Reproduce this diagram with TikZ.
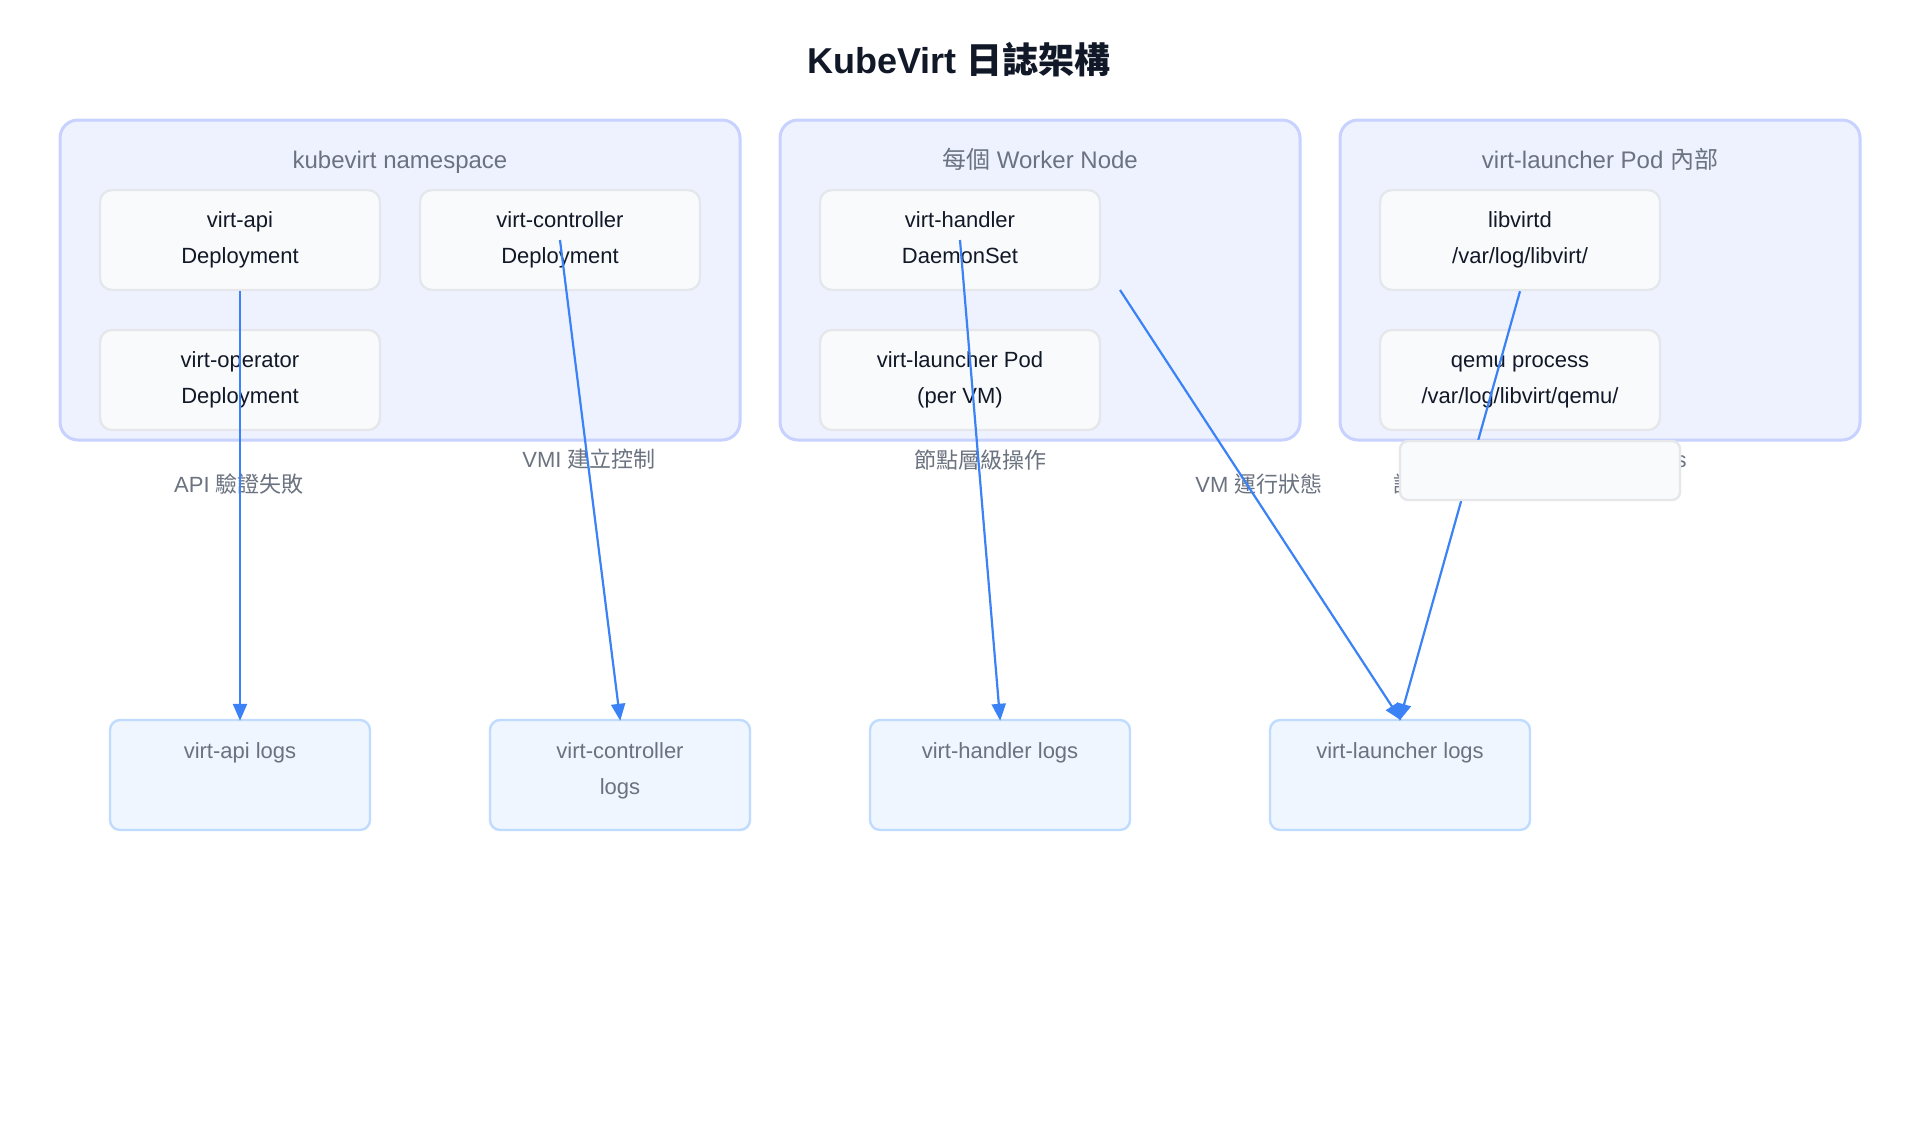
\documentclass[tikz,border=0pt]{standalone}
\usepackage{fontspec}
\setmainfont{Liberation Sans}
\newfontfamily\cjk{Noto Sans CJK TC}
\usetikzlibrary{arrows.meta}
\definecolor{grpfill}{HTML}{EEF2FF}
\definecolor{grpline}{HTML}{C7D2FE}
\definecolor{innerfill}{HTML}{F9FAFB}
\definecolor{innerline}{HTML}{E5E7EB}
\definecolor{logfill}{HTML}{EFF6FF}
\definecolor{logline}{HTML}{BFDBFE}
\definecolor{edgeblue}{HTML}{3B82F6}
\definecolor{darktext}{HTML}{111827}
\definecolor{graytext}{HTML}{6B7280}
\begin{document}
\begin{tikzpicture}[x=0.5pt,y=-0.5pt,
  grp/.style={draw=grpline, fill=grpfill, line width=1.5pt, rounded corners=9pt, minimum height=160pt},
  grplabel/.style={text=graytext, font=\fontsize{12}{14}\selectfont, inner sep=0pt, text height=9pt, text depth=3pt},
  inner/.style={draw=innerline, fill=innerfill, line width=1.2pt, rounded corners=6pt, minimum width=140pt, minimum height=50pt, align=center, text=darktext, font=\fontsize{11}{18}\selectfont},
  innertext/.style={text=darktext, align=center, font=\fontsize{11}{18}\selectfont, inner sep=0pt},
  logbox/.style={draw=logline, fill=logfill, line width=1.2pt, rounded corners=5pt, minimum width=130pt, minimum height=55pt},
  logtext/.style={text=graytext, align=center, font=\fontsize{11}{18}\selectfont, inner sep=0pt},
  elabel/.style={text=graytext, font=\fontsize{11}{14}\selectfont, inner sep=0pt, text height=8.5pt, text depth=2.5pt},
  conn/.style={draw=edgeblue, line width=1.1pt, shorten >=-1pt, -{Triangle[length=8.5pt,width=7pt]}}
]
\useasboundingbox[fill=white] (0,0) rectangle (1920,1120);

% title
\node[text=darktext, font=\bfseries\fontsize{18}{22}\selectfont] (title) at (959,60) {KubeVirt {\cjk 日誌架構}};

% groups
\node[grp, minimum width=340pt] (g1) at (400,280) {};
\node[grp, minimum width=260pt] (g2) at (1040,280) {};
\node[grp, minimum width=260pt] (g3) at (1600,280) {};
\node[grplabel] (g1l) at (400,162.5) {kubevirt namespace};
\node[grplabel] (g2l) at (1040,162.5) {{\cjk 每個} Worker Node};
\node[grplabel] (g3l) at (1600,162.5) {virt-launcher Pod {\cjk 內部}};

% inner boxes
\node[inner] (api) at (240,240) {};
\node[inner] (ctrl) at (560,240) {};
\node[inner] (oper) at (240,380) {};
\node[inner] (handler) at (960,240) {};
\node[inner] (launcher) at (960,380) {};
\node[inner] (libvirtd) at (1520,240) {};
\node[inner] (qemu) at (1520,380) {};
\node[innertext] (apit) at (240,238.5) {\strut virt-api\\\strut Deployment};
\node[innertext] (ctrlt) at (560,238.5) {\strut virt-controller\\\strut Deployment};
\node[innertext] (opert) at (240,378.5) {\strut virt-operator\\\strut Deployment};
\node[innertext] (handlert) at (960,238.5) {\strut virt-handler\\\strut DaemonSet};
\node[innertext] (launchert) at (960,378.5) {\strut virt-launcher Pod\\\strut (per VM)};
\node[innertext] (libvirtdt) at (1520,238.5) {\strut libvirtd\\\strut /var/log/libvirt/};
\node[innertext] (qemut) at (1520,378.5) {\strut qemu process\\\strut /var/log/libvirt/qemu/};

% log boxes
\node[logbox] (apilog) at (240,775) {};
\node[logbox] (ctrllog) at (620,775) {};
\node[logbox] (handlerlog) at (1000,775) {};
\node[logbox] (launcherlog) at (1400,775) {};
\node[logtext] (apilogt) at (240,751) {\strut virt-api logs};
\node[logtext] (ctrllogt) at (620,769) {\strut virt-controller\\\strut logs};
\node[logtext] (handlerlogt) at (1000,751) {\strut virt-handler logs};
\node[logtext] (launcherlogt) at (1400,751) {\strut virt-launcher logs};

% edge labels
\node[elabel] (l1) at (239,486.5) {API {\cjk 驗證失敗}};
\node[elabel] (l2) at (589,461.5) {VMI {\cjk 建立控制}};
\node[elabel] (l3) at (980,462.5) {{\cjk 節點層級操作}};
\node[elabel] (l4) at (1259,486.5) {VM {\cjk 運行狀態}};
\node[elabel, anchor=west] (l5) at (1393,486.5) {{\cjk 詳細除錯日誌}};
\node[elabel, anchor=east] (l6) at (1687,461.5) {qemu logs};

% connectors
\coordinate (vmstate) at (1120,290);
\draw[conn] (api.south) -- (apilog.north);
\draw[conn] (ctrl.center) -- (ctrllog.north);
\draw[conn] (handler.center) -- (handlerlog.north);
\draw[conn] (vmstate) -- (launcherlog.north);
\draw[conn] (libvirtd.south) -- (launcherlog.north);

% overlay box
\node[draw=innerline, fill=innerfill, line width=1.2pt, rounded corners=4pt, minimum width=140pt, minimum height=29.5pt] (cover) at (1540,470.5) {};
\end{tikzpicture}
\end{document}
